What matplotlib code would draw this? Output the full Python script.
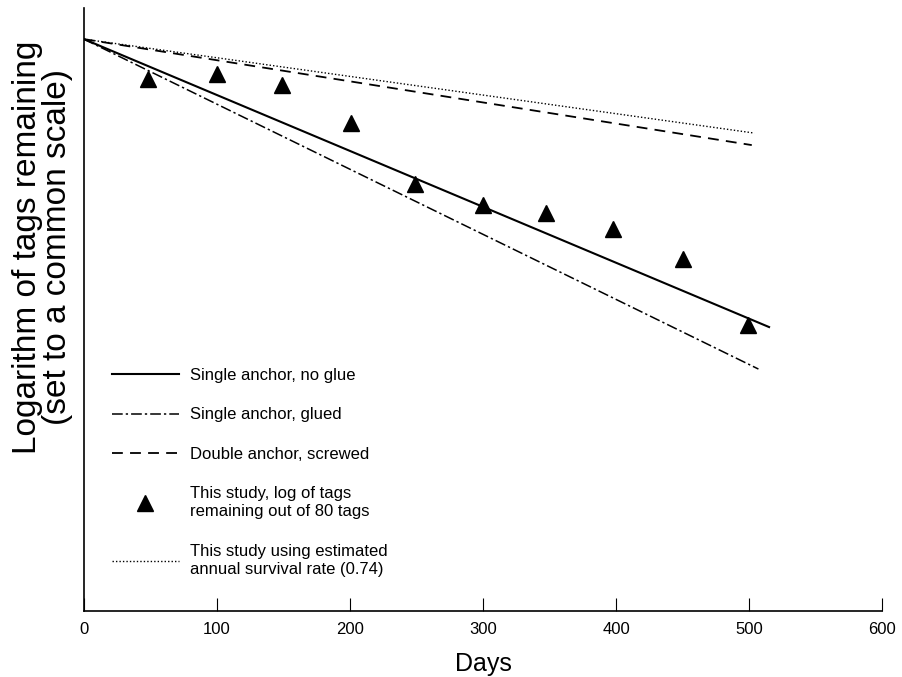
import matplotlib
matplotlib.use('Agg')
import matplotlib.pyplot as plt

plt.rcParams['font.family'] = ['Liberation Sans', 'DejaVu Sans']

# log of tags remaining, on an arbitrary common scale (axis has no numbers)
start_log = 572

no_glue_x = [0, 515]
no_glue_y = [start_log, 284]
glued_x = [0, 507]
glued_y = [start_log, 242]
screwed_x = [0, 502]
screwed_y = [start_log, 466]
annual_x = [0, 504]
annual_y = [start_log, 478]

study_days = [48, 100, 149, 201, 249, 300, 347, 398, 450, 499]
study_log = [532, 537, 526, 488, 427, 406, 398, 382, 352, 286]

fig = plt.figure(figsize=(9.02, 6.77), dpi=100)
ax = fig.add_axes([0.093, 0.0975, 0.885, 0.8905])

ax.plot(no_glue_x, no_glue_y, color='black', lw=1.5, ls='-', label='Single anchor, no glue')
ax.plot(glued_x, glued_y, color='black', lw=1.1, ls=(0, (7, 2, 1.5, 2)), label='Single anchor, glued')
ax.plot(screwed_x, screwed_y, color='black', lw=1.3, ls=(0, (6, 4)), label='Double anchor, screwed')
ax.plot(study_days, study_log, ls='none', marker='^', ms=12, color='black',
        label='This study, log of tags\nremaining out of 80 tags')
ax.plot(annual_x, annual_y, color='black', lw=1.0, ls=(0, (1, 1.5)),
        label='This study using estimated\nannual survival rate (0.74)')

ax.set_xlim(0, 600)
ax.set_ylim(0, 603)
ax.set_xticks([0, 100, 200, 300, 400, 500, 600])
ax.set_yticks([])
ax.tick_params(axis='x', direction='in', length=9.5, width=0.8, labelsize=12, pad=8)
for s in ['top', 'right']:
    ax.spines[s].set_visible(False)
ax.spines['left'].set_linewidth(1.2)
ax.spines['bottom'].set_linewidth(1.2)

ax.set_xlabel('Days', fontsize=18, va='center')
ax.xaxis.set_label_coords(0.5, -0.088)
ax.set_ylabel('Logarithm of tags remaining\n(set to a common scale)', fontsize=24,
              va='center', linespacing=0.95)
ax.yaxis.set_label_coords(-0.0516, 0.604)

leg = ax.legend(loc='upper left', bbox_to_anchor=(0.124, 0.456), bbox_transform=fig.transFigure,
                frameon=False, borderpad=0, borderaxespad=0,
                fontsize=12, handlelength=4.0, handletextpad=0.7, labelspacing=1.45)
for t in leg.get_texts():
    t.set_linespacing(1.3)

fig.savefig('out.png', dpi=100)
